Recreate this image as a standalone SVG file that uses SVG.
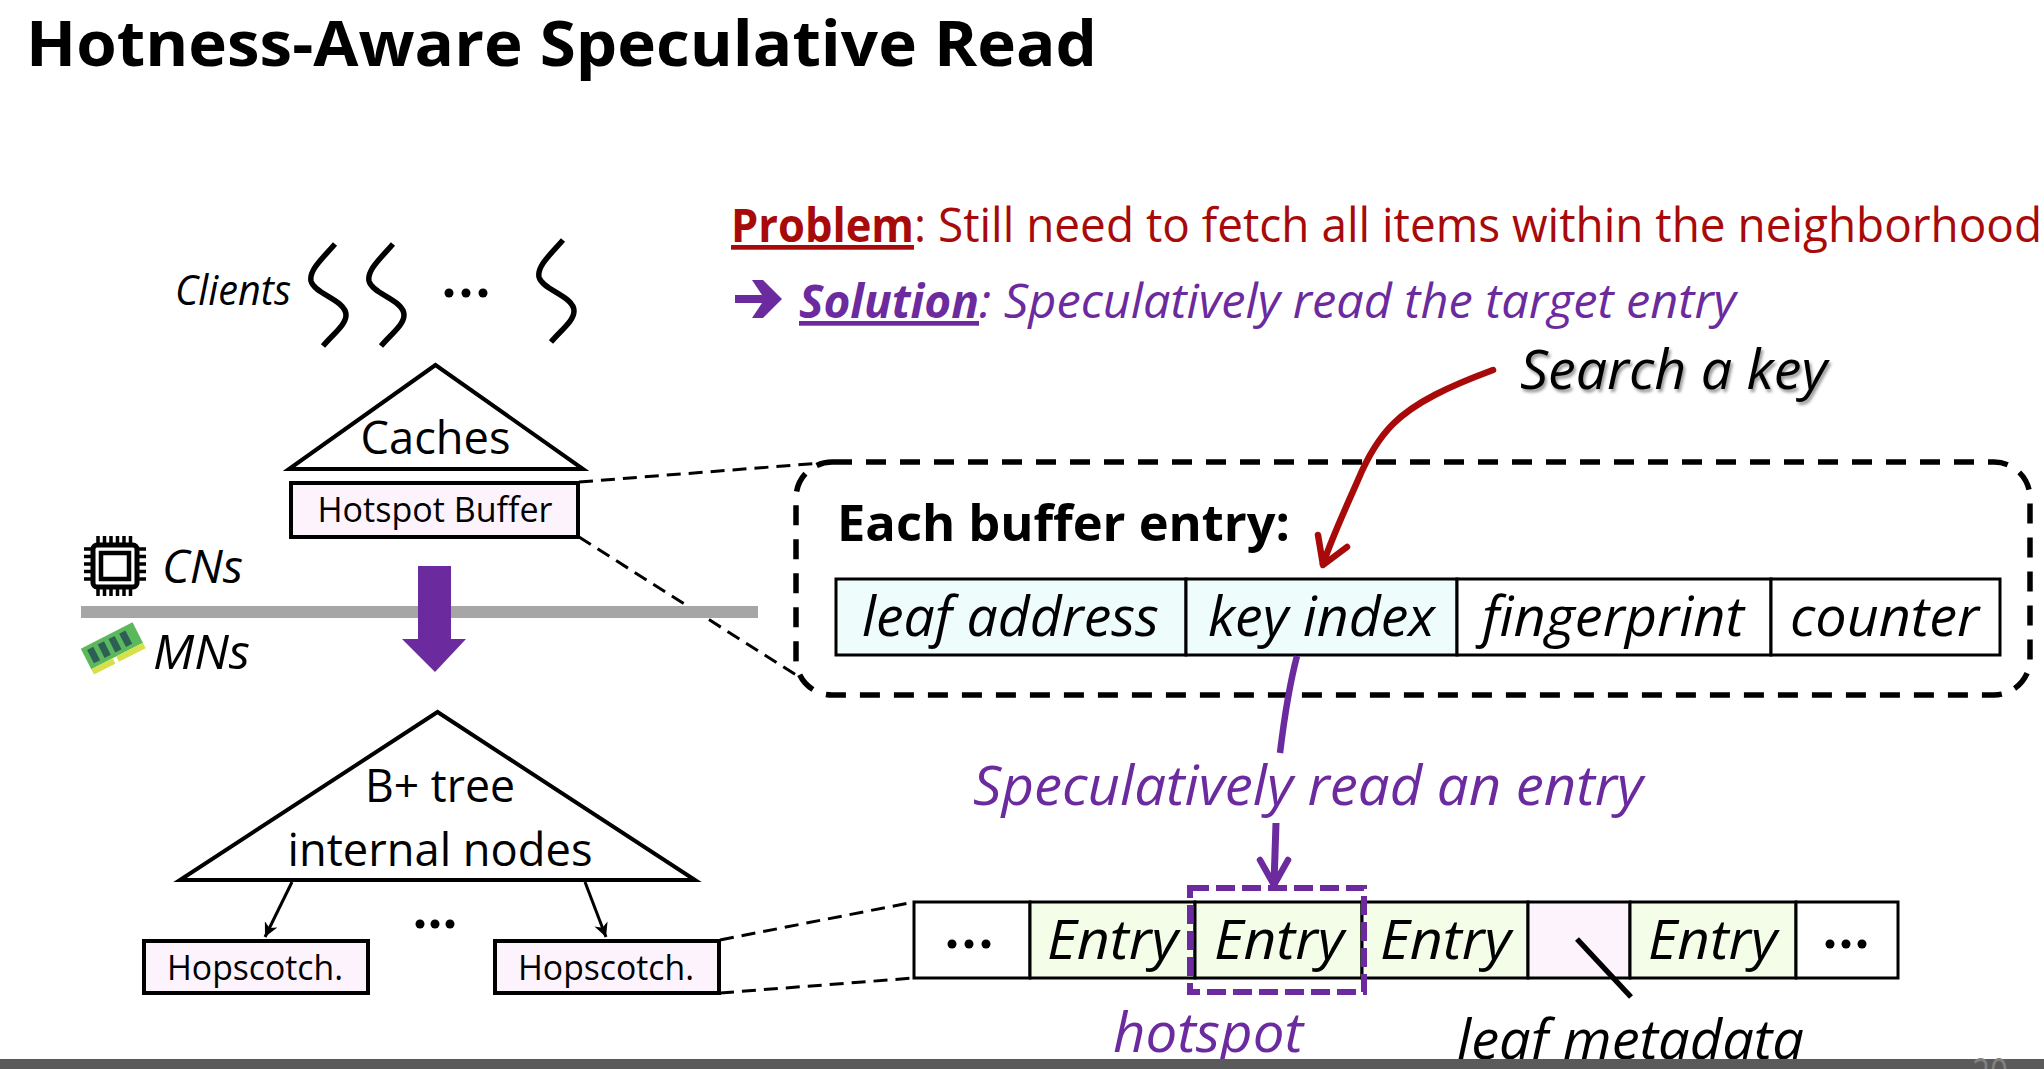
<svg xmlns="http://www.w3.org/2000/svg" width="2044" height="1069" viewBox="0 0 2044 1069">
<style>
text{font-family:"Open Sans","Noto Sans","DejaVu Sans",sans-serif;fill:#000}
.i{font-style:italic}
.b{font-weight:700}
.m{text-anchor:middle}
.box{fill:#fdf3fd;stroke:#000;stroke-width:4}
.tri{fill:#fff;stroke:#000;stroke-width:4;stroke-linejoin:miter}
.cell{stroke:#000;stroke-width:3}
.thin{fill:none;stroke:#000;stroke-width:3;stroke-dasharray:14 8}
.purple{fill:#6b2a9e}
.squig{fill:none;stroke:#000;stroke-width:5.500}
.dot{fill:#000}
.red{fill:none;stroke:#a80a0a;stroke-width:6.500;stroke-linecap:round;stroke-linejoin:round}
.pl{fill:none;stroke:#6b2a9e;stroke-width:6.500;stroke-linecap:round;stroke-linejoin:round}
</style>
<defs>
<marker id="blackhead" markerUnits="userSpaceOnUse" markerWidth="18" markerHeight="18" refX="14" refY="7" orient="auto"><path d="M0 0L14 7L0 14L4 7Z" fill="#000"/></marker>
<filter id="sh" x="-5%" y="-5%" width="110%" height="120%"><feDropShadow dx="2" dy="3" stdDeviation="1.500" flood-color="#000" flood-opacity="0.4"/></filter>
<path id="sq" d="M335 244C322 259 309 270 311 281C314 294 346 300 346 315C346 325 333 334 323 346"/>
</defs>
<rect width="2044" height="1069" fill="#fff"/>
<g id="title"><text x="26" y="66" font-size="63" class="b" textLength="1071" lengthAdjust="spacingAndGlyphs">Hotness-Aware Speculative Read</text></g>
<g id="problem">
<text x="731" y="242" font-size="47" class="b" style="fill:#a80a0a;text-decoration:underline;text-decoration-skip-ink:none" textLength="183" lengthAdjust="spacingAndGlyphs">Problem</text>
<text x="914" y="242" font-size="47" style="fill:#a80a0a" textLength="1128" lengthAdjust="spacingAndGlyphs">: Still need to fetch all items within the neighborhood</text>
</g>
<g id="solution">
<polygon class="purple" points="735,295 762,295 752,280 763,280 782,299 763,318 752,318 762,303 735,303"/>
<text x="799" y="318" font-size="47" class="b i" style="fill:#6b2a9e;text-decoration:underline;text-decoration-skip-ink:none" textLength="180" lengthAdjust="spacingAndGlyphs">Solution</text>
<text x="979" y="318" font-size="47" class="i" style="fill:#6b2a9e" textLength="757" lengthAdjust="spacingAndGlyphs">: Speculatively read the target entry</text>
</g>
<g id="connectors">
<path class="thin" d="M579 482L821 463"/>
<path class="thin" d="M579 537L804 680"/>
<path class="thin" d="M720 940L914 902"/>
<path class="thin" d="M720 993L914 978"/>
<line x1="292" y1="882" x2="265" y2="937" stroke="#000" stroke-width="3" marker-end="url(#blackhead)"/>
<line x1="585" y1="882" x2="606" y2="937" stroke="#000" stroke-width="3" marker-end="url(#blackhead)"/>
</g>
<g id="clients">
<text x="175" y="305" font-size="42" class="i" textLength="116" lengthAdjust="spacingAndGlyphs">Clients</text>
<use href="#sq" class="squig"/>
<use href="#sq" class="squig" x="58"/>
<use href="#sq" class="squig" x="228" y="-4"/>
<circle class="dot" cx="449" cy="293" r="4.500"/><circle class="dot" cx="466" cy="293" r="4.500"/><circle class="dot" cx="483" cy="293" r="4.500"/>
</g>
<g id="caches">
<polygon class="tri" points="435.500,365 289,469 583,469"/>
<text x="435.500" y="454" font-size="45" class="m" textLength="150" lengthAdjust="spacingAndGlyphs">Caches</text>
</g>
<g id="hotspot-buffer">
<rect class="box" x="291" y="483" width="287" height="54"/>
<text x="435" y="522" font-size="35" class="m" textLength="235" lengthAdjust="spacingAndGlyphs">Hotspot Buffer</text>
</g>
<g id="cns">
<path d="M98 536V546M104.500 536V546M111 536V546M117.500 536V546M124 536V546M130.500 536V546M98 586V596M104.500 586V596M111 586V596M117.500 586V596M124 586V596M130.500 586V596M84 549H94M84 556.500H94M84 564H94M84 571.500H94M84 579H94M136 549H146M136 556.500H146M136 564H146M136 571.500H146M136 579H146" stroke="#000" stroke-width="3.500" fill="none"/>
<rect x="93" y="545" width="44" height="42" rx="4" fill="#fff" stroke="#000" stroke-width="5"/>
<rect x="101" y="553" width="28" height="26" fill="#fff" stroke="#000" stroke-width="4.500"/>
<text x="162" y="583" font-size="45" class="i" textLength="81" lengthAdjust="spacingAndGlyphs">CNs</text>
</g>
<g id="divider"><rect x="81" y="606" width="677" height="12" fill="#a6a6a6"/></g>
<g id="cn-mn-arrow"><polygon class="purple" points="418,566 451,566 451,639 466,639 435,672 402,639 418,639"/></g>
<g id="mns">
<g transform="rotate(-27 113 648)">
<rect x="84" y="634" width="58" height="23" fill="#5cb85c"/>
<rect x="84" y="657" width="24" height="6" fill="#d5e04a"/><rect x="112" y="657" width="30" height="6" fill="#d5e04a"/>
<rect x="89" y="638" width="7" height="15" fill="#2d5f55"/><rect x="101" y="638" width="7" height="15" fill="#2d5f55"/><rect x="113" y="638" width="7" height="15" fill="#2d5f55"/><rect x="125" y="638" width="7" height="15" fill="#2d5f55"/>
</g>
<text x="153" y="669" font-size="48" class="i" textLength="97" lengthAdjust="spacingAndGlyphs">MNs</text>
</g>
<g id="btree">
<polygon class="tri" points="437.500,712 180,880 695,880"/>
<text x="440" y="802" font-size="45" class="m" textLength="150" lengthAdjust="spacingAndGlyphs">B+ tree</text>
<text x="440" y="866" font-size="45" class="m" textLength="305" lengthAdjust="spacingAndGlyphs">internal nodes</text>
</g>
<g id="leaf-dots"><circle class="dot" cx="420" cy="924" r="4.500"/><circle class="dot" cx="435" cy="924" r="4.500"/><circle class="dot" cx="450" cy="924" r="4.500"/></g>
<g id="hopscotch-1"><rect class="box" x="144" y="941" width="224" height="52"/><text x="255" y="980" font-size="35" class="m" textLength="176" lengthAdjust="spacingAndGlyphs">Hopscotch.</text></g>
<g id="hopscotch-2"><rect class="box" x="495" y="941" width="224" height="52"/><text x="606" y="980" font-size="35" class="m" textLength="176" lengthAdjust="spacingAndGlyphs">Hopscotch.</text></g>
<g id="search-key"><text x="1520" y="389" font-size="55" class="i" filter="url(#sh)" textLength="307" lengthAdjust="spacingAndGlyphs">Search a key</text></g>
<g id="buffer-entry">
<rect x="796" y="462" width="1234" height="233" rx="36" fill="none" stroke="#000" stroke-width="5.500" stroke-dasharray="20 14"/>
<text x="837" y="541" font-size="51" class="b" textLength="453" lengthAdjust="spacingAndGlyphs">Each buffer entry:</text>
<rect x="836" y="579" width="350" height="76" fill="#effcfc" class="cell"/>
<rect x="1186" y="579" width="271" height="76" fill="#effcfc" class="cell"/>
<rect x="1457" y="579" width="314" height="76" fill="#fff" class="cell"/>
<rect x="1771" y="579" width="229" height="76" fill="#fff" class="cell"/>
<text x="862" y="636" font-size="55" class="i" textLength="297" lengthAdjust="spacingAndGlyphs">leaf address</text>
<text x="1208" y="636" font-size="55" class="i" textLength="227" lengthAdjust="spacingAndGlyphs">key index</text>
<text x="1482" y="636" font-size="55" class="i" textLength="262" lengthAdjust="spacingAndGlyphs">fingerprint</text>
<text x="1790" y="636" font-size="55" class="i" textLength="189" lengthAdjust="spacingAndGlyphs">counter</text>
</g>
<g id="search-arrow">
<path class="red" d="M1493 370C1450 386 1415 402 1393 424C1378 439 1368 456 1358 480C1348 503 1333 535 1323 564"/>
<path class="red" d="M1318 535L1323 565L1347 547"/>
</g>
<g id="read-arrow">
<path d="M1297 656C1288 690 1284 720 1280 753" fill="none" stroke="#6b2a9e" stroke-width="6.500"/>
<text x="973" y="805" font-size="55" class="i" style="fill:#6b2a9e" textLength="670" lengthAdjust="spacingAndGlyphs">Speculatively read an entry</text>
<path d="M1276 823L1274 884" stroke="#6b2a9e" stroke-width="7" fill="none"/>
<path class="pl" d="M1260 860L1274 885L1288 860"/>
</g>
<g id="leaf-row">
<rect x="914" y="902" width="116" height="76" fill="#fff" class="cell"/>
<rect x="1030" y="902" width="165" height="76" fill="#f3fde8" class="cell"/>
<rect x="1195" y="902" width="167" height="76" fill="#f3fde8" class="cell"/>
<rect x="1362" y="902" width="166" height="76" fill="#f3fde8" class="cell"/>
<rect x="1528" y="902" width="102" height="76" fill="#fdf3fd" class="cell"/>
<rect x="1630" y="902" width="166" height="76" fill="#f3fde8" class="cell"/>
<rect x="1796" y="902" width="102" height="76" fill="#fff" class="cell"/>
<circle class="dot" cx="952" cy="944" r="4.500"/><circle class="dot" cx="969" cy="944" r="4.500"/><circle class="dot" cx="986" cy="944" r="4.500"/>
<circle class="dot" cx="1830" cy="944" r="4.500"/><circle class="dot" cx="1846" cy="944" r="4.500"/><circle class="dot" cx="1862" cy="944" r="4.500"/>
<text x="1047" y="959" font-size="55" class="i" textLength="131" lengthAdjust="spacingAndGlyphs">Entry</text>
<text x="1214" y="959" font-size="55" class="i" textLength="130" lengthAdjust="spacingAndGlyphs">Entry</text>
<text x="1380" y="959" font-size="55" class="i" textLength="131" lengthAdjust="spacingAndGlyphs">Entry</text>
<text x="1648" y="959" font-size="55" class="i" textLength="129" lengthAdjust="spacingAndGlyphs">Entry</text>
<path d="M1577 939L1631 997" stroke="#000" stroke-width="5.500" fill="none"/>
</g>
<g id="hotspot-box">
<rect x="1190" y="888" width="174" height="104" fill="none" stroke="#6b2a9e" stroke-width="6" stroke-dasharray="19 7"/>
<text x="1113" y="1052" font-size="55" class="i" style="fill:#6b2a9e" textLength="190" lengthAdjust="spacingAndGlyphs">hotspot</text>
</g>
<g id="leaf-metadata"><text x="1457" y="1059" font-size="55" class="i" textLength="347" lengthAdjust="spacingAndGlyphs">leaf metadata</text></g>
<g id="footer">
<rect x="0" y="1059" width="2044" height="10" fill="#5a5a5a"/>
<text x="1972" y="1088" font-size="42" style="fill:#808080" textLength="36" lengthAdjust="spacingAndGlyphs">20</text>
</g>
</svg>
